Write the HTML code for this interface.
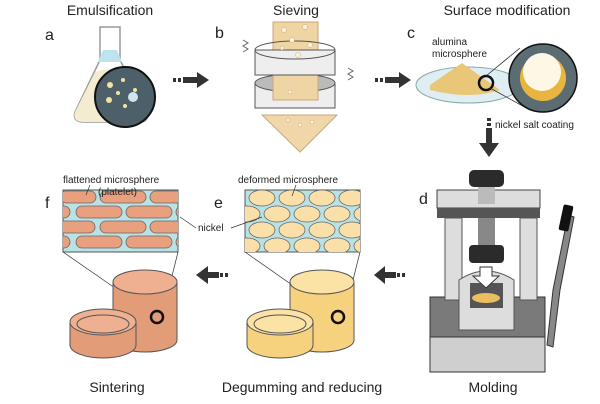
<!DOCTYPE html><html><head><meta charset="utf-8"><style>body{margin:0;background:#fff}svg{display:block}text{font-family:"Liberation Sans",sans-serif;fill:#222}</style></head><body>
<svg width="600" height="404" viewBox="0 0 600 404">
<defs>
<clipPath id="ce"><rect x="245" y="190" width="115" height="62"/></clipPath>
<clipPath id="cf"><rect x="63" y="190" width="115" height="62"/></clipPath>
<clipPath id="cm"><circle cx="125" cy="97" r="29"/></clipPath>
</defs>
<g font-size="14" text-anchor="middle">
<text x="110" y="15">Emulsification</text><text x="296" y="15">Sieving</text><text x="507" y="15">Surface modification</text>
<text x="117" y="392">Sintering</text><text x="302" y="392">Degumming and reducing</text><text x="493" y="392">Molding</text>
</g>
<g font-size="16"><text x="45" y="40">a</text><text x="215" y="38">b</text><text x="407" y="38">c</text><text x="419" y="204">d</text><text x="45" y="208">f</text><text x="214" y="208">e</text></g>
<!-- flask -->
<path d="M100 27 L100 60 L75 112 Q72 122 84 122 L140 122 Q150 122 146 112 L120 60 L120 27 Z" fill="#fff" stroke="#999" stroke-width="1.5"/>
<path d="M103 50 L117 50 L122 62 L98 62 Z" fill="#bfe3ec"/>
<path d="M95 72 Q110 66 130 72 L146 112 Q150 122 140 122 L84 122 Q72 122 75 112 Z" fill="#f3ecd0"/>
<circle cx="125" cy="97" r="30" fill="#4d5f68" stroke="#111" stroke-width="2"/>
<g clip-path="url(#cm)" fill="#f4e3a0"><circle cx="110" cy="85" r="3"/><circle cx="123" cy="80" r="2"/><circle cx="118" cy="93" r="2"/><circle cx="109" cy="100" r="3"/><circle cx="135" cy="90" r="2"/><circle cx="133" cy="97" r="5" fill="#cfe6ef"/><circle cx="125" cy="106" r="2"/></g>
<!-- arrows -->
<g fill="#333"><rect x="173" y="78" width="3" height="4"/><rect x="178" y="78" width="3" height="4"/><rect x="183" y="77" width="15" height="6"/><path d="M197 72 L209 80 L197 88 Z"/>
<rect x="375" y="78" width="3" height="4"/><rect x="380" y="78" width="3" height="4"/><rect x="385" y="77" width="15" height="6"/><path d="M399 72 L411 80 L399 88 Z"/>
<rect x="487" y="118" width="4" height="3"/><rect x="487" y="123" width="4" height="3"/><rect x="486" y="128" width="6" height="16"/><path d="M479 143 L499 143 L489 157 Z"/>
<rect x="402" y="273" width="3" height="4"/><rect x="397" y="273" width="3" height="4"/><rect x="383" y="272" width="13" height="6"/><path d="M385 266 L374 275 L385 284 Z"/>
<rect x="225" y="273" width="3" height="4"/><rect x="220" y="273" width="3" height="4"/><rect x="206" y="272" width="13" height="6"/><path d="M208 266 L196 275 L208 284 Z"/></g>
<!-- sieve -->
<path d="M262 115 L337 115 L300 152 Z" fill="#f0d6a8" stroke="#c9a87a"/>
<rect x="255" y="83" width="80" height="25" fill="#eee" stroke="#555"/><ellipse cx="295" cy="83" rx="40" ry="9" fill="#bbb" stroke="#555"/>
<rect x="273" y="22" width="45" height="78" fill="#efd5a3" stroke="#c9a87a"/>
<rect x="255" y="50" width="80" height="25" fill="#eee" stroke="#555"/><ellipse cx="295" cy="50" rx="40" ry="9" fill="none" stroke="#555"/>
<g fill="#fbf3d8" stroke="#c9a87a" stroke-width=".5"><circle cx="284" cy="30" r="2.5"/><circle cx="305" cy="27" r="2.5"/><circle cx="292" cy="40" r="2.5"/><circle cx="310" cy="45" r="2.5"/><circle cx="282" cy="48" r="2"/><circle cx="298" cy="55" r="2.5"/><circle cx="290" cy="92" r="2"/><circle cx="300" cy="125" r="2"/><circle cx="288" cy="120" r="2"/><circle cx="312" cy="122" r="2"/></g>
<path d="M243 52 l5 -3 -5 -3 5 -3 -5 -3" fill="none" stroke="#666"/><path d="M348 80 l5 -3 -5 -3 5 -3 -5 -3" fill="none" stroke="#666"/>
<!-- dish c -->
<ellipse cx="468" cy="85" rx="52" ry="18" fill="#dfeef2" stroke="#8aa"/>
<path d="M430 85 L462 63 L500 90 Q470 100 430 90 Z" fill="#e9c779"/>
<circle cx="486" cy="83" r="7" fill="none" stroke="#111" stroke-width="2.5"/>
<line x1="486" y1="76" x2="520" y2="48" stroke="#333" stroke-width=".8"/><line x1="490" y1="88" x2="530" y2="110" stroke="#333" stroke-width=".8"/>
<circle cx="543" cy="78" r="34" fill="#5b6c73" stroke="#111" stroke-width="1.5"/>
<circle cx="543" cy="78" r="23" fill="#e8b640"/><circle cx="542" cy="72" r="19" fill="#fdf7e6"/>
<g font-size="10"><text x="432" y="45">alumina</text><text x="432" y="57">microsphere</text><text x="495" y="128">nickel salt coating</text></g>
<!-- press -->
<rect x="430" y="297" width="115" height="40" fill="#7a7a7a" stroke="#333"/><rect x="430" y="337" width="115" height="35" fill="#cfcfcf" stroke="#333"/>
<rect x="445" y="218" width="17" height="82" fill="#ddd" stroke="#555"/><rect x="520" y="218" width="17" height="82" fill="#ddd" stroke="#555"/>
<rect x="437" y="190" width="103" height="18" fill="#ddd" stroke="#444"/><rect x="437" y="208" width="103" height="10" fill="#555"/>
<rect x="478" y="184" width="17" height="20" fill="#bbb"/><rect x="469" y="170" width="35" height="17" rx="5" fill="#2b2b2b"/>
<rect x="478" y="218" width="17" height="30" fill="#888"/><rect x="469" y="245" width="35" height="18" rx="4" fill="#2b2b2b"/>
<path d="M459 330 L459 280 Q486 262 514 280 L514 330 Z" fill="#ddd" stroke="#555"/>
<rect x="470" y="283" width="33" height="25" fill="#555"/><ellipse cx="486" cy="298" rx="14" ry="5" fill="#e9c060"/>
<path d="M480 267 L492 267 L492 276 L499 276 L486 288 L473 276 L480 276 Z" fill="#fff" stroke="#333"/>
<path d="M547 345 L553 290 L568 215 L574 217 L560 290 L553 347 Z" fill="#888" stroke="#333"/><rect x="561" y="205" width="10" height="26" rx="2" fill="#111" transform="rotate(12 566 218)"/>
<!-- e -->
<rect x="245" y="190" width="115" height="62" fill="#b9e2e4" stroke="#555"/>
<g clip-path="url(#ce)" fill="#fbdfa8" stroke="#666" stroke-width=".8">
<ellipse cx="262" cy="198" rx="13" ry="8"/><ellipse cx="292" cy="198" rx="13" ry="8"/><ellipse cx="322" cy="198" rx="13" ry="8"/><ellipse cx="352" cy="198" rx="13" ry="8"/>
<ellipse cx="247" cy="214" rx="13" ry="8"/><ellipse cx="277" cy="214" rx="13" ry="8"/><ellipse cx="307" cy="214" rx="13" ry="8"/><ellipse cx="337" cy="214" rx="13" ry="8"/><ellipse cx="367" cy="214" rx="13" ry="8"/>
<ellipse cx="262" cy="230" rx="13" ry="8"/><ellipse cx="292" cy="230" rx="13" ry="8"/><ellipse cx="322" cy="230" rx="13" ry="8"/><ellipse cx="352" cy="230" rx="13" ry="8"/>
<ellipse cx="247" cy="246" rx="13" ry="8"/><ellipse cx="277" cy="246" rx="13" ry="8"/><ellipse cx="307" cy="246" rx="13" ry="8"/><ellipse cx="337" cy="246" rx="13" ry="8"/><ellipse cx="367" cy="246" rx="13" ry="8"/></g>
<!-- f -->
<rect x="63" y="190" width="115" height="62" fill="#b9e2e4" stroke="#555"/>
<g clip-path="url(#cf)" fill="#e9a07f" stroke="#666" stroke-width=".8">
<rect x="60" y="191" width="36" height="12" rx="6"/><rect x="100" y="191" width="46" height="12" rx="6"/><rect x="150" y="191" width="40" height="12" rx="6"/>
<rect x="50" y="206" width="20" height="12" rx="6"/><rect x="76" y="206" width="46" height="12" rx="6"/><rect x="126" y="206" width="46" height="12" rx="6"/><rect x="176" y="206" width="20" height="12" rx="6"/>
<rect x="55" y="221" width="40" height="12" rx="6"/><rect x="100" y="221" width="46" height="12" rx="6"/><rect x="150" y="221" width="40" height="12" rx="6"/>
<rect x="50" y="236" width="20" height="12" rx="6"/><rect x="76" y="236" width="46" height="12" rx="6"/><rect x="126" y="236" width="46" height="12" rx="6"/><rect x="176" y="236" width="20" height="12" rx="6"/></g>
<g font-size="10"><text x="63" y="183">flattened microsphere</text><text x="98" y="195" fill="#222">(platelet)</text><text x="238" y="183">deformed microsphere</text><text x="198" y="231">nickel</text></g>
<g stroke="#333" stroke-width=".7" fill="none"><line x1="180" y1="217" x2="196" y2="228"/><line x1="231" y1="228" x2="262" y2="217"/><line x1="90" y1="185" x2="86" y2="195"/><line x1="296" y1="185" x2="292" y2="196"/>
<line x1="63" y1="252" x2="154" y2="315"/><line x1="178" y1="252" x2="163" y2="312"/><line x1="245" y1="252" x2="335" y2="315"/><line x1="360" y1="252" x2="345" y2="312"/></g>
<!-- cylinders -->
<path d="M113 282 L113 340 A32 12 0 0 0 177 340 L177 282 Z" fill="#e39c78" stroke="#555"/><ellipse cx="145" cy="282" rx="32" ry="12" fill="#eeb091" stroke="#555"/>
<path d="M70 322 L70 345 A33 13 0 0 0 136 345 L136 322 Z" fill="#e39c78" stroke="#555"/><ellipse cx="103" cy="322" rx="33" ry="13" fill="#eeb091" stroke="#555"/><ellipse cx="103" cy="324" rx="26" ry="9" fill="none" stroke="#555"/>
<circle cx="157" cy="317" r="6" fill="none" stroke="#111" stroke-width="2.5"/>
<path d="M290 282 L290 340 A32 12 0 0 0 354 340 L354 282 Z" fill="#f6d27e" stroke="#555"/><ellipse cx="322" cy="282" rx="32" ry="12" fill="#fbe3a5" stroke="#555"/>
<path d="M247 322 L247 345 A33 13 0 0 0 313 345 L313 322 Z" fill="#f6d27e" stroke="#555"/><ellipse cx="280" cy="322" rx="33" ry="13" fill="#fbe3a5" stroke="#555"/><ellipse cx="280" cy="324" rx="26" ry="9" fill="none" stroke="#555"/>
<circle cx="338" cy="317" r="6" fill="none" stroke="#111" stroke-width="2.5"/>
</svg></body></html>
